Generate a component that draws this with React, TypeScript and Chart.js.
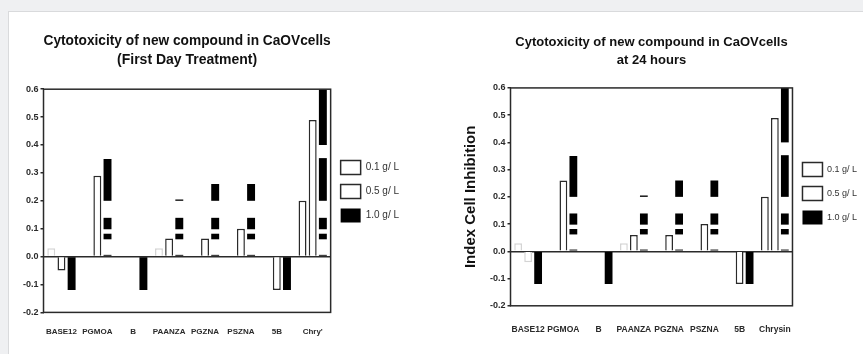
import React, { useEffect, useRef } from 'react';
import { Chart, registerables } from 'chart.js';

Chart.register(...registerables);

// ---------- data ----------
const categoriesDay1 = ['BASE12', 'PGMOA', 'B', 'PAANZA', 'PGZNA', 'PSZNA', '5B', "Chry'"];
const categories24h = ['BASE12', 'PGMOA', 'B', 'PAANZA', 'PGZNA', 'PSZNA', '5B', 'Chrysin'];
const seriesNames = ['0.1 g/ L', '0.5 g/ L', '1.0 g/ L'];

const day1Low = [0.03, null, null, 0.03, null, null, null, 0.2];
const day1Mid = [-0.05, 0.29, null, 0.065, 0.065, 0.1, -0.12, 0.49];
const day1High = [-0.12, 0.35, -0.12, 0.205, 0.26, 0.26, -0.12, 0.6];

const h24Low = [0.03, null, null, 0.03, null, null, null, 0.2];
const h24Mid = [-0.04, 0.26, null, 0.06, 0.06, 0.1, -0.12, 0.49];
const h24High = [-0.12, 0.35, -0.12, 0.205, 0.26, 0.26, -0.12, 0.6];

const yMin = -0.2;
const yMax = 0.6;
const yStep = 0.1;

const titleDay1 = ['Cytotoxicity of new compound in CaOVcells', '(First Day Treatment)'];
const title24h = ['Cytotoxicity of new compound in CaOVcells', 'at 24 hours'];
const yAxisTitle24h = 'Index Cell Inhibition';

// ---------- style ----------
const SANS = "'Liberation Sans', Arial, sans-serif";
const INK = '#2a2a2a';
// white stripes visible across the solid black bars in the source figure (value units)
const maskBands: [number, number][] = [[0, 0.062], [0.082, 0.098], [0.139, 0.2], [0.353, 0.4]];

const maskPlugin = {
  id: 'stripeMask',
  afterDatasetsDraw(chart: any) {
    const ds = chart.data.datasets[2];
    const meta = chart.getDatasetMeta(2);
    const ys = chart.scales.y;
    const ctx = chart.ctx;
    ctx.save();
    ctx.fillStyle = '#ffffff';
    meta.data.forEach((bar: any, i: number) => {
      const v = ds.data[i];
      if (v == null || v <= 0) return;
      const p = bar.getProps(['x', 'y', 'base', 'width'], true);
      for (const [lo, hi] of maskBands) {
        const yLo = Math.min(p.base - 1, ys.getPixelForValue(lo));
        const yHi = Math.max(p.y, ys.getPixelForValue(hi));
        if (yLo > yHi) ctx.fillRect(p.x - p.width / 2 - 1, yHi, p.width + 2, yLo - yHi);
      }
    });
    ctx.restore();
  },
};

const framePlugin = {
  id: 'plotFrame',
  afterDatasetsDraw(chart: any) {
    const { ctx, chartArea: a } = chart;
    ctx.save();
    ctx.strokeStyle = INK;
    ctx.lineWidth = 1.5;
    ctx.strokeRect(a.left, a.top, a.right - a.left, a.bottom - a.top);
    ctx.restore();
  },
};

type Props = {
  title: string[];
  categories: string[];
  low: (number | null)[];
  mid: (number | null)[];
  high: (number | null)[];
  yTitle?: string;
  width: number;
  height: number;
  titleSize: number;
  titleLine: number;
  catSize: number;
  legendSize: number;
  titlePadBottom: number;
  xPad: number;
  layoutPad: { left: number; right: number; top: number; bottom: number };
};

function BarChart(props: Props) {
  const ref = useRef<HTMLCanvasElement | null>(null);
  useEffect(() => {
    if (!ref.current) return;
    const whiteBorder = (c: any) =>
      c.raw != null && Math.abs(c.raw) < 0.05 ? '#d4d4d4' : INK;
    const chart = new Chart(ref.current, {
      type: 'bar',
      data: {
        labels: props.categories,
        datasets: [
          { label: seriesNames[0], data: props.low, backgroundColor: '#ffffff', borderColor: whiteBorder, borderWidth: 1.5 },
          { label: seriesNames[1], data: props.mid, backgroundColor: '#ffffff', borderColor: whiteBorder, borderWidth: 1.5 },
          { label: seriesNames[2], data: props.high, backgroundColor: '#000000', borderColor: '#000000', borderWidth: 0 },
        ],
      },
      options: {
        animation: false,
        responsive: false,
        maintainAspectRatio: false,
        devicePixelRatio: 1,
        events: [],
        layout: { padding: props.layoutPad },
        datasets: { bar: { categoryPercentage: 0.85, barPercentage: 0.78 } },
        plugins: {
          title: {
            display: true,
            text: props.title,
            fullSize: false,
            color: '#111',
            font: { family: SANS, size: props.titleSize, weight: 'bold', lineHeight: props.titleLine },
            padding: { top: 0, bottom: props.titlePadBottom },
          },
          legend: {
            display: true,
            position: 'right',
            align: 'center',
            labels: {
              boxWidth: 20,
              boxHeight: 14,
              padding: 10,
              color: '#333',
              font: { family: SANS, size: props.legendSize },
              generateLabels: (ch: any) =>
                Chart.defaults.plugins.legend.labels.generateLabels(ch).map((item: any, i: number) => ({
                  ...item,
                  strokeStyle: i === 2 ? '#000000' : INK,
                  lineWidth: i === 2 ? 0 : 1.5,
                })),
            },
          },
          tooltip: { enabled: false },
        },
        scales: {
          x: {
            grid: { display: false, drawTicks: false },
            border: { display: false },
            ticks: {
              color: INK,
              autoSkip: false,
              maxRotation: 0,
              minRotation: 0,
              padding: props.xPad,
              font: { family: SANS, size: props.catSize, weight: 'bold' },
            },
          },
          y: {
            min: yMin,
            max: yMax,
            border: { display: false },
            grid: {
              color: (c: any) => (c.tick && Math.abs(c.tick.value) < 1e-9 ? INK : 'rgba(0,0,0,0)'),
              lineWidth: 1.5,
              tickColor: INK,
              tickLength: 3,
            },
            ticks: {
              stepSize: yStep,
              color: INK,
              padding: 2,
              font: { family: SANS, size: 9, weight: 'bold' },
              callback: (v: any) => Number(v).toFixed(1),
            },
            title: props.yTitle
              ? {
                  display: true,
                  text: props.yTitle,
                  color: '#111',
                  padding: { top: 0, bottom: 8 },
                  font: { family: SANS, size: 15, weight: 'bold' },
                }
              : { display: false },
          },
        },
      },
      plugins: [maskPlugin, framePlugin],
    } as any);
    return () => chart.destroy();
  }, []);
  return <canvas ref={ref} width={props.width} height={props.height} style={{ display: 'block', width: props.width, height: props.height }} />;
}

export default function App() {
  return (
    <div style={{ position: 'fixed', inset: 0, background: '#eff0f2', overflow: 'hidden' }}>
      <div
        style={{
          position: 'absolute',
          left: 8,
          top: 11,
          right: -2,
          bottom: -2,
          background: '#ffffff',
          border: '1px solid #d9dadc',
        }}
      >
        <div style={{ position: 'absolute', left: 0, top: 0 }}>
          <BarChart
            title={titleDay1}
            categories={categoriesDay1}
            low={day1Low}
            mid={day1Mid}
            high={day1High}
            width={422}
            height={342}
            titleSize={14}
            titleLine={1.4}
            catSize={8}
            legendSize={10}
            titlePadBottom={19}
            xPad={15}
            layoutPad={{ left: 12, right: 22, top: 19, bottom: 2 }}
          />
        </div>
        <div style={{ position: 'absolute', left: 422, top: 0 }}>
          <BarChart
            title={title24h}
            categories={categories24h}
            low={h24Low}
            mid={h24Mid}
            high={h24High}
            yTitle={yAxisTitle24h}
            width={432}
            height={342}
            titleSize={13}
            titleLine={1.42}
            catSize={8.5}
            legendSize={9}
            titlePadBottom={18}
            xPad={19}
            layoutPad={{ left: 31, right: -4, top: 21, bottom: 0 }}
          />
        </div>
      </div>
    </div>
  );
}
